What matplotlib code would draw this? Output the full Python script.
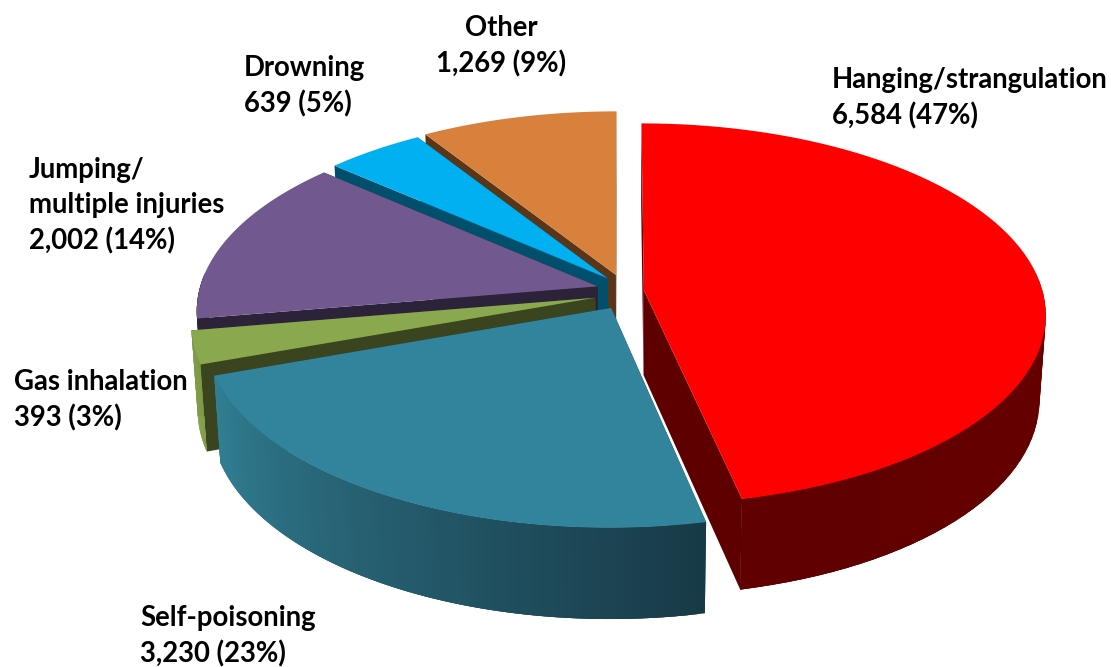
import matplotlib
matplotlib.use('Agg')
import matplotlib.pyplot as plt
import numpy as np
from matplotlib.colors import to_rgb
from matplotlib.patches import Polygon

categories = ['Hanging/strangulation', 'Self-poisoning', 'Gas inhalation',
              'Jumping/\nmultiple injuries', 'Drowning', 'Other']
values = [6584, 3230, 393, 2002, 639, 1269]

top_colors = ['#FF0000', '#31849B', '#8AA84E', '#71588F', '#00B0F0', '#D7813C']
cut_colors = ['#5E0000', '#183A47', '#3A441E', '#2C2239', '#004F6C', '#5A3518']
# outer wall colour at the start and at the end of each slice (clockwise)
rim_start = ['#6E0000', '#183A47', '#7F9C48', '#2C2239', '#004F6C', '#5A3518']
rim_end = ['#600000', '#317F94', '#8AA84E', '#2C2239', '#004F6C', '#5A3518']
explode = [1, 1, 1.25, 1.15, 1, 1]

label_pos = [(832, 98), (140, 636), (14, 400), (29, 206), (244, 86), (501, 46)]
label_ha = ['left', 'left', 'left', 'left', 'left', 'center']

# pie geometry, in pixels
cx, cy = 622, 292
x_radius, y_radius = 399, 188
persp = 0.125
explode_x, explode_y = 22 / 399, 18 / 188
depth = 85


def project(x, y):
    w = 1 + persp * y
    return cx + x_radius * x / w, cy - y_radius * y / w, w


def drop(px, py, w):
    # same point on the bottom face of the slab
    return cx + (px - cx) * 0.985, py + depth / np.sqrt(w)


def add_poly(ax, xs, ys, color):
    ax.add_patch(Polygon(np.column_stack([xs, ys]), closed=True, facecolor=color,
                         edgecolor='none', linewidth=0))


def draw_slice(ax, start, end, i):
    mid = (start + end) / 2
    ox, oy = explode[i] * explode_x * np.sin(mid), explode[i] * explode_y * np.cos(mid)
    theta = np.linspace(start, end, 80)
    px, py, w = project(ox + np.sin(theta), oy + np.cos(theta))
    ax_, ay_, aw = project(ox, oy)
    bx, by = drop(px, py, w)
    abx, aby = drop(ax_, ay_, aw)

    # cut walls
    add_poly(ax, [ax_, px[0], bx[0], abx], [ay_, py[0], by[0], aby], cut_colors[i])
    add_poly(ax, [ax_, px[-1], bx[-1], abx], [ay_, py[-1], by[-1], aby], cut_colors[i])

    # outer wall, only the front part shows. Each piece overlaps the next so no seams
    c0, c1 = np.array(to_rgb(rim_start[i])), np.array(to_rgb(rim_end[i]))
    for j in range(len(theta) - 1):
        if np.cos(theta[j]) > 0.05 and np.cos(theta[j + 1]) > 0.05:
            continue
        t = j / (len(theta) - 2)
        k = min(j + 3, len(theta) - 1)
        add_poly(ax, [px[j], px[k], bx[k], bx[j]],
                 [py[j], py[k], by[k], by[j]], tuple(c0 + (c1 - c0) * t))

    # top face
    add_poly(ax, np.r_[ax_, px], np.r_[ay_, py], top_colors[i])


fig = plt.figure(figsize=(11.11, 6.67), dpi=100)
ax = fig.add_axes([0, 0, 1, 1])
ax.set_xlim(0, 1111)
ax.set_ylim(667, 0)
ax.axis('off')

total = sum(values)
edges = np.r_[0, np.cumsum(values)] / total * 2 * np.pi

# back slices first, so the front ones cover them
for i in [5, 4, 3, 2, 1, 0]:
    draw_slice(ax, edges[i], edges[i + 1], i)

for i, name in enumerate(categories):
    pct = round(values[i] / total * 100)
    ax.text(label_pos[i][0], label_pos[i][1], f'{name}\n{values[i]:,} ({pct}%)',
            family='Lato', weight='bold', fontsize=19.8, color='black',
            ha=label_ha[i], va='center', ma=label_ha[i], linespacing=1.42)

fig.savefig('out.png', dpi=100)
